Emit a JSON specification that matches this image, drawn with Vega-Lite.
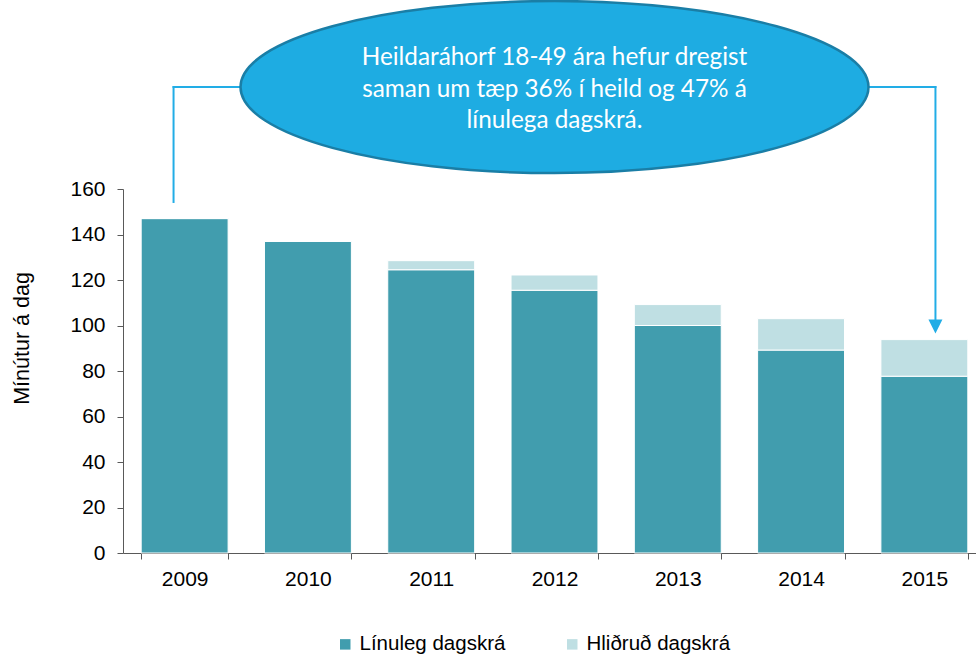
{
  "$schema": "https://vega.github.io/schema/vega-lite/v6.json",
  "width": 863,
  "height": 364,
  "autosize": "none",
  "padding": {"left": 123, "top": 189, "right": 0, "bottom": 102},
  "background": "white",
  "config": {"view": {"stroke": null}, "font": "Liberation Sans"},
  "datasets": {
    "bars": [
      {"year": "2009", "type": "Línuleg dagskrá", "minutes": 147},
      {"year": "2009", "type": "Hliðruð dagskrá", "minutes": 0},
      {"year": "2010", "type": "Línuleg dagskrá", "minutes": 137},
      {"year": "2010", "type": "Hliðruð dagskrá", "minutes": 0},
      {"year": "2011", "type": "Línuleg dagskrá", "minutes": 124.5},
      {"year": "2011", "type": "Hliðruð dagskrá", "minutes": 4},
      {"year": "2012", "type": "Línuleg dagskrá", "minutes": 115.5},
      {"year": "2012", "type": "Hliðruð dagskrá", "minutes": 6.7},
      {"year": "2013", "type": "Línuleg dagskrá", "minutes": 100},
      {"year": "2013", "type": "Hliðruð dagskrá", "minutes": 9.2},
      {"year": "2014", "type": "Línuleg dagskrá", "minutes": 89.2},
      {"year": "2014", "type": "Hliðruð dagskrá", "minutes": 13.8},
      {"year": "2015", "type": "Línuleg dagskrá", "minutes": 77.7},
      {"year": "2015", "type": "Hliðruð dagskrá", "minutes": 16.1}
    ],
    "connectors": [
      {"x": 0.41, "x2": 0.41, "y": 154.3, "y2": 204.8},
      {"x": 0.41, "x2": 6.59, "y": 204.8, "y2": 204.8},
      {"x": 6.59, "x2": 6.59, "y": 204.8, "y2": 101}
    ],
    "bubble": [{"pos": 3.5, "val": 204.8}],
    "arrow": [{"pos": 6.59, "val": 99.6}],
    "lines": [
      {"pos": 3.5, "val": 214.5, "text": "Heildaráhorf 18-49 ára hefur dregist"},
      {"pos": 3.5, "val": 200.6, "text": "saman um tæp 36% í heild og 47% á"},
      {"pos": 3.5, "val": 186.7, "text": "línulega dagskrá."}
    ]
  },
  "layer": [
    {
      "data": {"name": "bars"},
      "mark": {"type": "bar", "stroke": "white", "strokeWidth": 1},
      "encoding": {
        "x": {
          "field": "year", "type": "ordinal",
          "scale": {"paddingInner": 0.295, "paddingOuter": 0.1475},
          "axis": {
            "title": null, "labelAngle": 0, "labelFontSize": 21, "labelColor": "#000000",
            "labelFont": "Liberation Sans",
            "tickBand": "extent", "tickSize": 6, "labelPadding": 9,
            "domainColor": "#595959", "tickColor": "#595959", "grid": false
          }
        },
        "y": {
          "field": "minutes", "type": "quantitative", "stack": "zero",
          "scale": {"domain": [0, 160], "nice": false},
          "axis": {
            "title": "Mínútur á dag", "titleFontSize": 21.5, "titleFontWeight": "normal",
            "titleFont": "Liberation Sans", "labelFont": "Liberation Sans",
            "titleColor": "#000000", "titlePadding": 36, "titleY": 149,
            "values": [0, 20, 40, 60, 80, 100, 120, 140, 160],
            "labelFontSize": 21, "labelColor": "#000000", "labelPadding": 12,
            "tickSize": 6, "domainColor": "#595959", "tickColor": "#595959", "grid": false
          }
        },
        "color": {
          "field": "type", "type": "nominal",
          "scale": {"domain": ["Línuleg dagskrá", "Hliðruð dagskrá"], "range": ["#419dae", "#bfdfe3"]},
          "legend": {
            "title": null, "orient": "none", "legendX": 212, "legendY": 445,
            "direction": "horizontal", "symbolType": "square", "symbolSize": 110,
            "symbolStrokeWidth": 0, "labelFontSize": 20.5, "labelColor": "#000000",
            "labelFont": "Liberation Sans",
            "labelOffset": 4, "columnPadding": 56
          }
        },
        "order": {"field": "type", "type": "nominal", "sort": "descending"}
      }
    },
    {
      "data": {"name": "connectors"},
      "mark": {"type": "rule", "color": "#22ade6", "strokeWidth": 2, "strokeCap": "square"},
      "encoding": {
        "x": {"field": "x", "type": "quantitative", "scale": {"domain": [0, 7], "nice": false, "zero": false}, "axis": null},
        "x2": {"field": "x2"},
        "y": {"field": "y", "type": "quantitative", "scale": {"domain": [0, 160], "nice": false}},
        "y2": {"field": "y2"}
      }
    },
    {
      "data": {"name": "arrow"},
      "mark": {"type": "point", "shape": "M-1,-1L1,-1L0,1Z", "filled": true, "color": "#22ade6", "opacity": 1, "size": 196},
      "encoding": {
        "x": {"field": "pos", "type": "quantitative", "scale": {"domain": [0, 7], "nice": false, "zero": false}, "axis": null},
        "y": {"field": "val", "type": "quantitative", "scale": {"domain": [0, 160], "nice": false}}
      }
    },
    {
      "data": {"name": "bubble"},
      "mark": {
        "type": "point", "shape": "M-1,0A1,0.274,0,1,1,1,0A1,0.274,0,1,1,-1,0Z",
        "filled": true, "fill": "#1eace2", "stroke": "#1a7ea6", "strokeWidth": 2.5,
        "opacity": 1, "fillOpacity": 1, "strokeOpacity": 1, "size": 394384
      },
      "encoding": {
        "x": {"field": "pos", "type": "quantitative", "scale": {"domain": [0, 7], "nice": false, "zero": false}, "axis": null},
        "y": {"field": "val", "type": "quantitative", "scale": {"domain": [0, 160], "nice": false}}
      }
    },
    {
      "data": {"name": "lines"},
      "mark": {"type": "text", "font": "Lato", "fontSize": 24.3, "color": "#ffffff", "align": "center", "baseline": "alphabetic"},
      "encoding": {
        "x": {"field": "pos", "type": "quantitative", "scale": {"domain": [0, 7], "nice": false, "zero": false}, "axis": null},
        "y": {"field": "val", "type": "quantitative", "scale": {"domain": [0, 160], "nice": false}},
        "text": {"field": "text", "type": "nominal"}
      }
    }
  ],
  "resolve": {"scale": {"x": "independent"}}
}
